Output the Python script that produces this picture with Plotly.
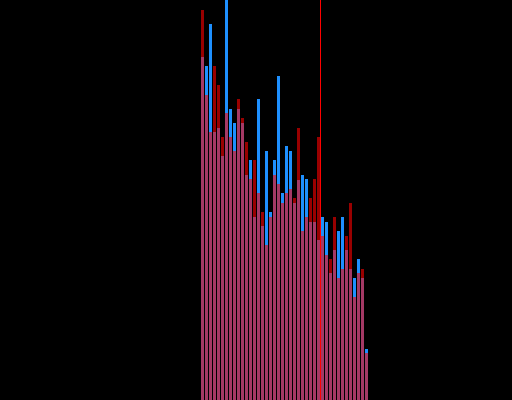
import plotly.graph_objects as go

bins = list(range(42))
red_vals = [390, 305, 268, 334, 315, 263, 287, 263, 249, 301, 282, 258, 221, 240,
            207, 188, 155, 183, 225, 216, 197, 207, 211, 202, 272, 169, 183, 202,
            221, 263, 164, 145, 141, 183, 122, 131, 164, 197, 103, 127, 131, 47]
blue_vals = [343, 334, 376, 268, 272, 244, 405, 291, 277, 291, 277, 225, 240, 183,
             301, 174, 249, 188, 240, 324, 207, 254, 249, 197, 220, 225, 221, 178,
             178, 160, 183, 178, 127, 150, 169, 183, 150, 131, 122, 141, 122, 51]
marker_x = 29.5

fig = go.Figure()
fig.add_trace(go.Bar(x=bins, y=blue_vals, width=0.75,
                     marker=dict(color="rgb(30,144,255)", line=dict(width=0))))
fig.add_trace(go.Bar(x=bins, y=red_vals, width=0.75, opacity=0.6,
                     marker=dict(color="rgb(255,0,0)", line=dict(width=0))))
fig.add_shape(type="line", x0=marker_x, x1=marker_x, y0=0, y1=1, yref="paper",
              line=dict(color="rgb(255,0,0)", width=1))

fig.update_layout(
    width=512, height=400,
    margin=dict(l=0, r=0, t=0, b=0),
    paper_bgcolor="black", plot_bgcolor="black",
    barmode="overlay", showlegend=False,
    xaxis=dict(range=[-50.625, 77.375], showgrid=False, zeroline=False,
               showticklabels=False, visible=False),
    yaxis=dict(range=[0, 400], showgrid=False, zeroline=False,
               showticklabels=False, visible=False),
)
fig.write_html(
    "out.html",
    config={"displayModeBar": False, "staticPlot": True},
    post_script="document.body.style.margin='0';document.body.style.padding='0';"
                "document.body.style.background='black';"
                "document.documentElement.style.background='black';"
                "document.body.style.overflow='hidden';",
)
